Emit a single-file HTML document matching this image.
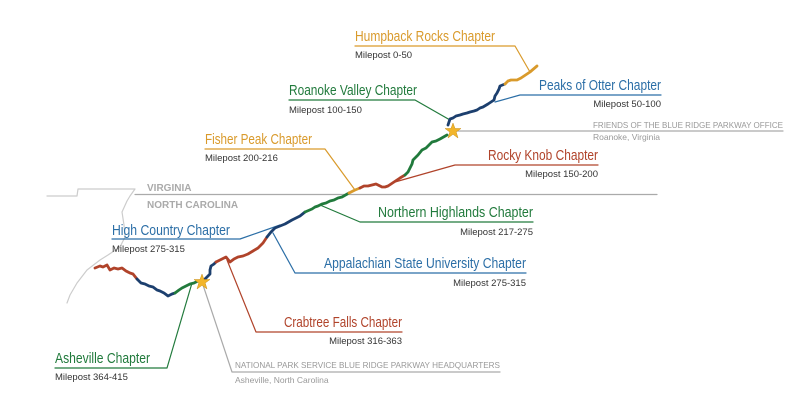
<!DOCTYPE html>
<html><head><meta charset="utf-8"><style>
html,body{margin:0;padding:0;background:#fff;}
svg{display:block;}
.t{font-family:"Liberation Sans",sans-serif;font-size:15px;}
.m{font-family:"Liberation Sans",sans-serif;font-size:9.5px;fill:#333;}
.g{font-family:"Liberation Sans",sans-serif;font-size:8.5px;fill:#999;}
</style></head><body>
<svg width="800" height="401" viewBox="0 0 800 401" xmlns="http://www.w3.org/2000/svg">
<g fill="none" stroke-linejoin="round" stroke-linecap="round">
<path d="M47,196 L77,196 L78,189 L135,189 L130,196 L127,201 L122,212 L124,225 L125,237 L120,247 L108,255 L100,260 L87,270 L77,283 L70,295 L67,303" stroke="#ccc" stroke-width="1.2"/>
<line x1="135" y1="194.5" x2="657" y2="194.5" stroke="#aaa" stroke-width="1.2"/>
<polyline points="355,46 515,46 530,72" stroke="#d99a2b" stroke-width="1.2"/>
<polyline points="495,102 520,95 661,95" stroke="#2b6ea6" stroke-width="1.2"/>
<polyline points="452,131 783,131" stroke="#aaa" stroke-width="1.2"/>
<polyline points="289,100 415,100 450,120" stroke="#217a3c" stroke-width="1.2"/>
<polyline points="395,182 455,165 598,165" stroke="#b0432a" stroke-width="1.2"/>
<polyline points="205,149 325,149 355,190" stroke="#d99a2b" stroke-width="1.2"/>
<polyline points="320,205 360,222 533,222" stroke="#217a3c" stroke-width="1.2"/>
<polyline points="112,239 240,239 280,225" stroke="#2b6ea6" stroke-width="1.2"/>
<polyline points="273,233 295,273 526,273" stroke="#2b6ea6" stroke-width="1.2"/>
<polyline points="227,260 256,332 402,332" stroke="#b0432a" stroke-width="1.2"/>
<polyline points="203,285 232,372 500,372" stroke="#aaa" stroke-width="1.2"/>
<polyline points="192,283 167,368 55,368" stroke="#217a3c" stroke-width="1.2"/>
<g stroke-width="2.8">
<path d="M95,268 L100,266 L103,267 L107,265 L110,270 L114,268 L118,269 L122,268 L126,271 L130,273 L133,274 L137,279" stroke="#b0432a"/>
<path d="M137,279 L141,283 L145,284 L149,286 L153,287 L157,290 L160,291 L164,293 L168,296 L172,294 L175,293" stroke="#1c3f6e"/>
<path d="M175,293 L179,290 L182,288 L186,286 L190,284 L194,283 L198,281" stroke="#217a3c"/>
<path d="M204,280 L208,276 L210,274 L210,270 L211,266 L214,264 L216,262" stroke="#1c3f6e"/>
<path d="M216,262 L222,259 L226,257 L230,262 L234,259 L238,257 L243,256 L248,254 L253,251 L258,248 L263,243 L267,237" stroke="#b0432a"/>
<path d="M267,237 L271,232 L275,228 L280,226 L285,224 L292,220 L296,218 L300,216 L305,212" stroke="#1c3f6e"/>
<path d="M305,212 L312,209 L315,207 L318,206 L322,204 L326,203 L330,201 L334,200 L338,198 L342,197 L349,193" stroke="#217a3c"/>
<path d="M349,193 L355,190 L360,188" stroke="#d99a2b"/>
<path d="M360,188 L364,186 L368,186 L372,185 L376,184 L382,187 L385,187 L388,186 L391,184 L394,182 L400,178 L405,175" stroke="#b0432a"/>
<path d="M405,175 L408,172 L410,168 L412,164 L413,160 L416,157 L418,155 L422,150 L426,148 L429,145 L432,142 L436,141 L440,139 L447,135" stroke="#217a3c"/>
<path d="M448,125 L450,119 L453,118 L456,116 L460,115 L463,114 L467,113 L470,112 L474,111 L477,110 L480,108 L483,107 L488,104 L491,102 L494,100 L495,96 L497,93 L499,89 L500,86 L505,84" stroke="#1c3f6e"/>
<path d="M505,84 L508,81 L511,80 L517,80 L521,78 L524,76 L530,72 L537,66" stroke="#d99a2b"/>
</g>
</g>
<polygon points="202,274 204,279.5 210,279.5 205.2,283 207,289 202,285.3 197,289 198.8,283 194,279.5 200,279.5" fill="#f2b52b" stroke="#c8901a" stroke-width="0.5"/>
<polygon points="453,123 455,128.5 461,128.5 456.2,132 458,138 453,134.3 448,138 449.8,132 445,128.5 451,128.5" fill="#f2b52b" stroke="#c8901a" stroke-width="0.5"/>
<text class="t" x="355" y="41" fill="#d99a2b" textLength="140" lengthAdjust="spacingAndGlyphs">Humpback Rocks Chapter</text>
<text class="m" x="355" y="58">Milepost 0-50</text>
<text class="t" x="661" y="90" fill="#2b6ea6" text-anchor="end" textLength="122" lengthAdjust="spacingAndGlyphs">Peaks of Otter Chapter</text>
<text class="m" x="661" y="107" text-anchor="end">Milepost 50-100</text>
<text class="t" x="289" y="95" fill="#217a3c" textLength="128" lengthAdjust="spacingAndGlyphs">Roanoke Valley Chapter</text>
<text class="m" x="289" y="113">Milepost 100-150</text>
<text class="g" x="593" y="128" textLength="190" lengthAdjust="spacingAndGlyphs">FRIENDS OF THE BLUE RIDGE PARKWAY OFFICE</text>
<text class="g" x="593" y="140">Roanoke, Virginia</text>
<text class="t" x="205" y="144" fill="#d99a2b" textLength="107" lengthAdjust="spacingAndGlyphs">Fisher Peak Chapter</text>
<text class="m" x="205" y="161">Milepost 200-216</text>
<text class="t" x="598" y="160" fill="#b0432a" text-anchor="end" textLength="110" lengthAdjust="spacingAndGlyphs">Rocky Knob Chapter</text>
<text class="m" x="598" y="177" text-anchor="end">Milepost 150-200</text>
<text x="147" y="191" font-family="Liberation Sans,sans-serif" font-weight="bold" font-size="10" fill="#aaa">VIRGINIA</text>
<text x="147" y="208" font-family="Liberation Sans,sans-serif" font-weight="bold" font-size="10" fill="#aaa">NORTH CAROLINA</text>
<text class="t" x="533" y="217" fill="#217a3c" text-anchor="end" textLength="155" lengthAdjust="spacingAndGlyphs">Northern Highlands Chapter</text>
<text class="m" x="533" y="235" text-anchor="end">Milepost 217-275</text>
<text class="t" x="112" y="235" fill="#2b6ea6" textLength="118" lengthAdjust="spacingAndGlyphs">High Country Chapter</text>
<text class="m" x="112" y="252">Milepost 275-315</text>
<text class="t" x="526" y="268" fill="#2b6ea6" text-anchor="end" textLength="202" lengthAdjust="spacingAndGlyphs">Appalachian State University Chapter</text>
<text class="m" x="526" y="286" text-anchor="end">Milepost 275-315</text>
<text class="t" x="402" y="327" fill="#b0432a" text-anchor="end" textLength="118" lengthAdjust="spacingAndGlyphs">Crabtree Falls Chapter</text>
<text class="m" x="402" y="344" text-anchor="end">Milepost 316-363</text>
<text class="g" x="235" y="368" textLength="265" lengthAdjust="spacingAndGlyphs">NATIONAL PARK SERVICE BLUE RIDGE PARKWAY HEADQUARTERS</text>
<text class="g" x="235" y="383">Asheville, North Carolina</text>
<text class="t" x="55" y="363" fill="#217a3c" textLength="95" lengthAdjust="spacingAndGlyphs">Asheville Chapter</text>
<text class="m" x="55" y="380">Milepost 364-415</text>
</svg>
</body></html>
